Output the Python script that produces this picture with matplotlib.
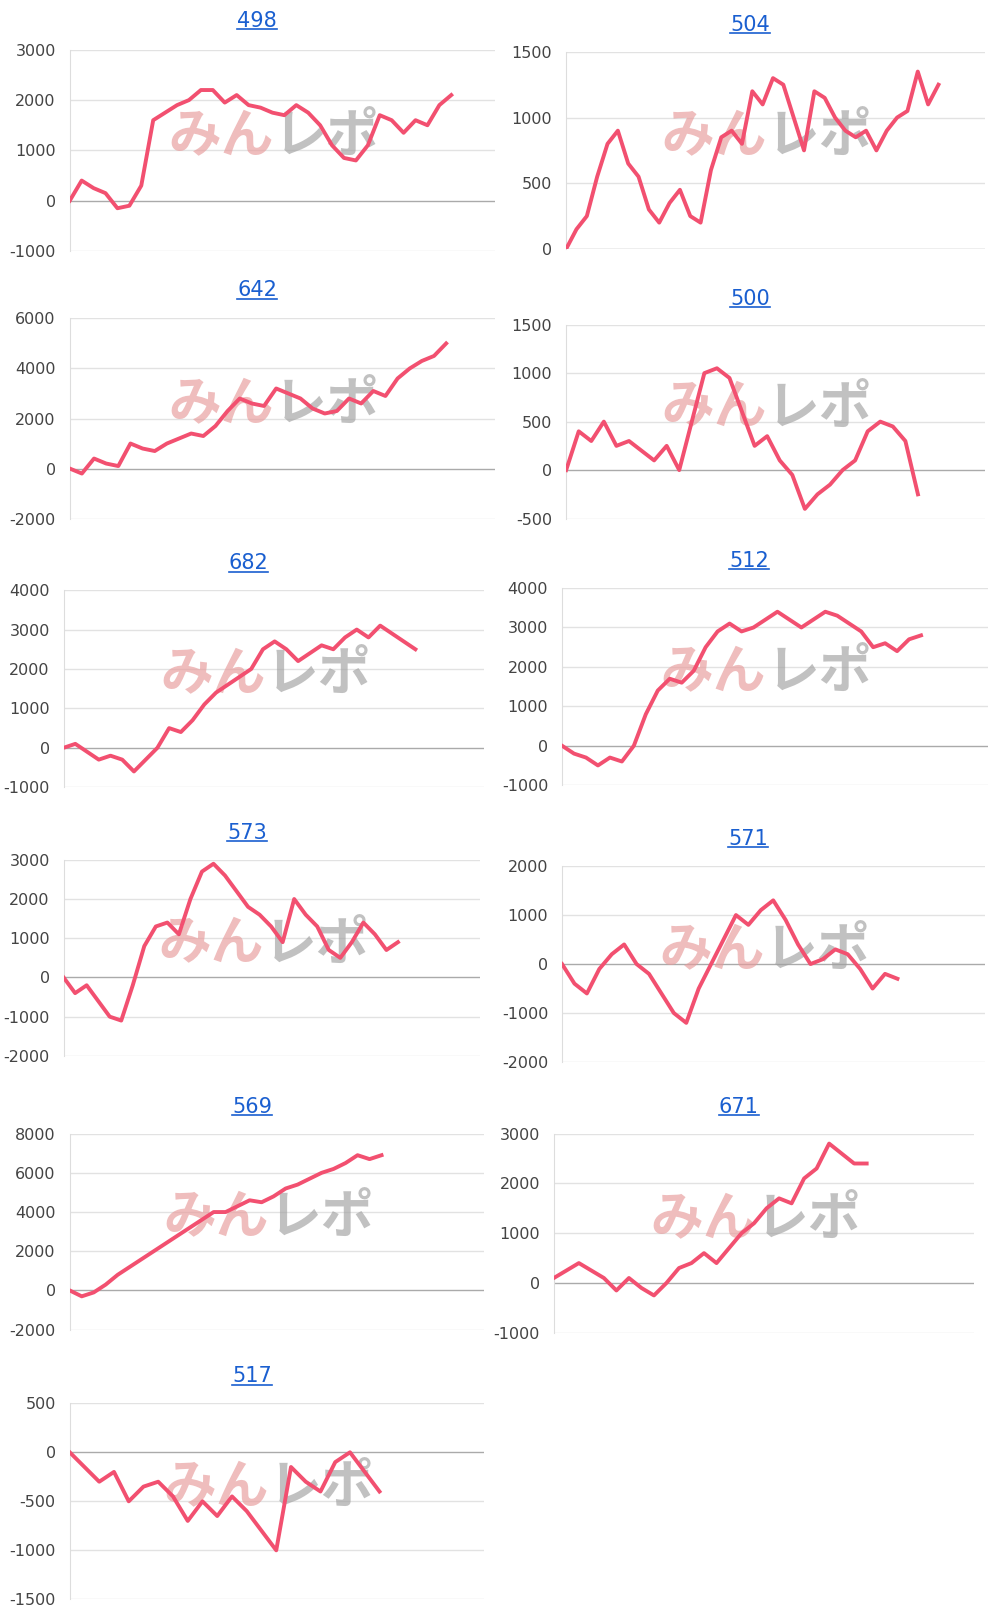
import matplotlib.pyplot as plt
import numpy as np

plt.rcParams['font.family'] = ['DejaVu Sans', 'Noto Sans CJK JP']

titles = ["498", "504", "642", "500", "682", "512", "573", "571", "569", "671", "517"]

s498 = [0, 400, 250, 150, -150, -100, 300, 1600, 1750, 1900, 2000, 2200, 2200, 1950, 2100, 1900, 1850,
        1750, 1700, 1900, 1750, 1500, 1100, 850, 800, 1100, 1700, 1600, 1350, 1600, 1500, 1900, 2100]
s504 = [0, 150, 250, 550, 800, 900, 650, 550, 300, 200, 350, 450, 250, 200, 600, 850, 900, 800, 1200,
        1100, 1300, 1250, 1000, 750, 1200, 1150, 1000, 900, 850, 900, 750, 900, 1000, 1050, 1350, 1100, 1250]
s642 = [0, -200, 400, 200, 100, 1000, 800, 700, 1000, 1200, 1400, 1300, 1700, 2300, 2800, 2600, 2500,
        3200, 3000, 2800, 2400, 2200, 2300, 2800, 2600, 3100, 2900, 3600, 4000, 4300, 4500, 5000]
s500 = [0, 400, 300, 500, 250, 300, 200, 100, 250, 0, 500, 1000, 1050, 950, 600, 250, 350, 100, -50,
        -400, -250, -150, 0, 100, 400, 500, 450, 300, -250]
s682 = [0, 100, -100, -300, -200, -300, -600, -300, 0, 500, 400, 700, 1100, 1400, 1600, 1800, 2000,
        2500, 2700, 2500, 2200, 2400, 2600, 2500, 2800, 3000, 2800, 3100, 2900, 2700, 2500]
s512 = [0, -200, -300, -500, -300, -400, 0, 800, 1400, 1700, 1600, 1900, 2500, 2900, 3100, 2900, 3000,
        3200, 3400, 3200, 3000, 3200, 3400, 3300, 3100, 2900, 2500, 2600, 2400, 2700, 2800]
s573 = [0, -400, -200, -600, -1000, -1100, -200, 800, 1300, 1400, 1100, 2000, 2700, 2900, 2600, 2200,
        1800, 1600, 1300, 900, 2000, 1600, 1300, 700, 500, 900, 1400, 1100, 700, 900]
s571 = [0, -400, -600, -100, 200, 400, 0, -200, -600, -1000, -1200, -500, 0, 500, 1000, 800, 1100,
        1300, 900, 400, 0, 100, 300, 200, -100, -500, -200, -300]
s569 = [0, -300, -100, 300, 800, 1200, 1600, 2000, 2400, 2800, 3200, 3600, 4000, 4000, 4300, 4600,
        4500, 4800, 5200, 5400, 5700, 6000, 6200, 6500, 6900, 6700, 6900]
s671 = [100, 250, 400, 250, 100, -150, 100, -100, -250, 0, 300, 400, 600, 400, 700, 1000, 1200, 1500,
        1700, 1600, 2100, 2300, 2800, 2600, 2400, 2400]
s517 = [0, -150, -300, -200, -500, -350, -300, -450, -700, -500, -650, -450, -600, -800, -1000, -150,
        -300, -400, -100, 0, -200, -400]
series = [s498, s504, s642, s500, s682, s512, s573, s571, s569, s671, s517]

yticks = [[-1000, 0, 1000, 2000, 3000], [0, 500, 1000, 1500], [-2000, 0, 2000, 4000, 6000],
          [-500, 0, 500, 1000, 1500], [-1000, 0, 1000, 2000, 3000, 4000], [-1000, 0, 1000, 2000, 3000, 4000],
          [-2000, -1000, 0, 1000, 2000, 3000], [-2000, -1000, 0, 1000, 2000],
          [-2000, 0, 2000, 4000, 6000, 8000], [-1000, 0, 1000, 2000, 3000], [-1500, -1000, -500, 0, 500]]

# layout in reference pixels: left, right, top, bottom, line end x, title y
W, H = 975, 1560
boxes = [(68, 483, 48, 242, 440, 20), (552, 960, 50, 240, 915, 24),
         (68, 483, 307, 500, 435, 280), (552, 960, 313, 500, 895, 288),
         (62, 472, 569, 759, 405, 543), (548, 963, 567, 757, 898, 541),
         (62, 468, 829, 1018, 388, 803), (548, 960, 835, 1024, 875, 809),
         (68, 472, 1093, 1282, 372, 1067), (540, 950, 1093, 1285, 845, 1067),
         (68, 472, 1353, 1542, 370, 1327)]

fig = plt.figure(figsize=(10, 16.18), dpi=100)
for t, s, yt, (l, r, tp, bt, xe, ty) in zip(titles, series, yticks, boxes):
    ax = fig.add_axes([l / W, 1 - bt / H, (r - l) / W, (bt - tp) / H])
    x = np.arange(len(s))
    frac = (xe - l) / (r - l)
    ax.set_xlim(0, (len(s) - 1) / frac)
    ax.set_ylim(yt[0], yt[-1])
    ax.set_yticks(yt)
    ax.set_yticklabels([str(v) for v in yt], fontsize=11.5, color='#444444')
    ax.set_xticks([])
    for v in yt:
        ax.axhline(v, color='#aaaaaa' if v == 0 else '#e2e2e2', lw=1, zorder=0)
    for sp in ['top', 'right', 'bottom']:
        ax.spines[sp].set_visible(False)
    ax.spines['left'].set_color('#dddddd')
    ax.tick_params(axis='y', length=0, pad=10)
    # watermark
    ax.text(0.48, 0.57, "みん", transform=ax.transAxes, ha='right', va='center', fontsize=38,
            fontweight='bold', color='#e79a9a', alpha=0.65, family='Noto Sans CJK JP', zorder=1)
    ax.text(0.48, 0.57, "レポ", transform=ax.transAxes, ha='left', va='center', fontsize=38,
            fontweight='bold', color='#a0a0a0', alpha=0.65, family='Noto Sans CJK JP', zorder=1)
    ax.plot(x, s, color='#f25070', lw=2.8, zorder=3)
    fig.text((l + (r - l) * 0.44) / W, 1 - ty / H, t, ha='center', va='center',
             fontsize=15, color='#1a5fd0')

fig.canvas.draw()
for txt in fig.texts:
    bb = txt.get_window_extent().transformed(fig.transFigure.inverted())
    fig.add_artist(plt.Line2D([bb.x0, bb.x1], [bb.y0 + 0.001, bb.y0 + 0.001], color='#1a5fd0', lw=1.2))

fig.savefig("out.png")
